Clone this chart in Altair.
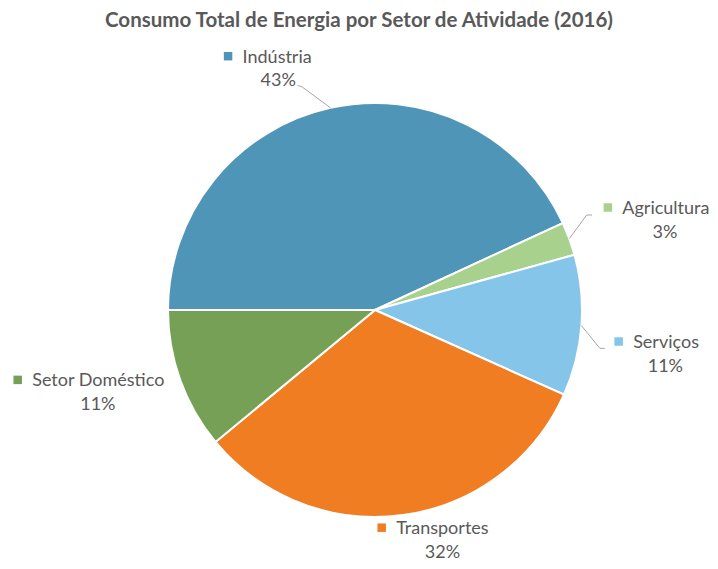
import math
import altair as alt
import pandas as pd

# ---------------- data ----------------
categories = ["Indústria", "Agricultura", "Serviços", "Transportes", "Setor Doméstico"]
shares = [43.1, 2.6, 11.0, 32.3, 11.0]
colors = ["#4F95B8", "#A9D18E", "#86C5EA", "#F07D22", "#76A055"]
title_text = "Consumo Total de Energia por Setor de Atividade (2016)"

# ---------------- layout ----------------
W, H = 702, 513
PAD_TOP = 40
OX, OY = 8, 8 + PAD_TOP
CX, CY, R = 375 - OX, 310 - OY, 207
START_DEG = 270.0
FONT = "Lato"
GREY = "#595959"
FS = 18

# label placement: angular offset from slice mid-angle (deg) and radius of percent line (px)
label_angle_off = [-10.5, 5.2, 6.7, -7.8, 0.9]
label_radius = [248.4, 300.2, 295.8, 251.9, 292.9]
name_left_off = [-35.7, -42.7, -32.2, -46.3, -65.7]
LINE_GAP = 23.5
# leader lines: (elbow offset, end offset) relative to percent-line centre
leaders = [((24.3, 6.0), (19.3, 4.0)),
           ((-78.3, -17.5), (-73.0, -17.5)),
           ((-65.5, -18.2), (-60.5, -18.2)),
           None, None]

total = sum(shares)
pie_rows, lab_rows, lead_rows = [], [], []
cum = 0.0
for i, (c, s) in enumerate(zip(categories, shares)):
    a0 = START_DEG + 360 * cum / total
    cum += s
    a1 = START_DEG + 360 * cum / total
    mid = (a0 + a1) / 2
    pie_rows.append({"category": c, "share": s, "ord": i})
    la = math.radians(mid + label_angle_off[i])
    px = CX + label_radius[i] * math.sin(la)
    py = CY - label_radius[i] * math.cos(la)
    nl = px + name_left_off[i]
    lab_rows.append({"category": c, "pct": f"{round(s / total * 100)}%",
                     "px": px, "py": py, "nx": nl, "ny": py - LINE_GAP,
                     "sx": nl - 14.5, "sy": py - LINE_GAP - 1.5})
    if leaders[i] is not None:
        ma = math.radians(mid)
        pts = [(CX + R * math.sin(ma), CY - R * math.cos(ma)),
               (px + leaders[i][0][0], py + leaders[i][0][1]),
               (px + leaders[i][1][0], py + leaders[i][1][1])]
        for k, (x, y) in enumerate(pts):
            lead_rows.append({"category": c, "k": k, "x": x, "y": y})

pie_df = pd.DataFrame(pie_rows)
lab_df = pd.DataFrame(lab_rows)
lead_df = pd.DataFrame(lead_rows)

color_scale = alt.Scale(domain=categories, range=colors)
theta_scale = alt.Scale(range=[math.radians(START_DEG), math.radians(START_DEG) + 2 * math.pi])

pie = alt.Chart(pie_df).mark_arc(outerRadius=R, stroke="white", strokeWidth=2).encode(
    theta=alt.Theta("share:Q", stack=True, scale=theta_scale),
    color=alt.Color("category:N", scale=color_scale, legend=None),
    order=alt.Order("ord:Q"),
    x=alt.value(CX),
    y=alt.value(CY),
)

lines = alt.Chart(lead_df).mark_line(color="#A6A6A6", strokeWidth=1).encode(
    x=alt.X("x:Q", scale=None, axis=None),
    y=alt.Y("y:Q", scale=None, axis=None),
    detail="category:N",
    order="k:Q",
)

squares = alt.Chart(lab_df).mark_point(shape="square", filled=True, size=72, opacity=1).encode(
    x=alt.X("sx:Q", scale=None, axis=None),
    y=alt.Y("sy:Q", scale=None, axis=None),
    color=alt.Color("category:N", scale=color_scale, legend=None),
)

names = alt.Chart(lab_df).mark_text(font=FONT, fontSize=FS, color=GREY, align="left", baseline="middle").encode(
    x=alt.X("nx:Q", scale=None, axis=None),
    y=alt.Y("ny:Q", scale=None, axis=None),
    text="category:N",
)

pcts = alt.Chart(lab_df).mark_text(font=FONT, fontSize=FS, color=GREY, align="center", baseline="middle").encode(
    x=alt.X("px:Q", scale=None, axis=None),
    y=alt.Y("py:Q", scale=None, axis=None),
    text="pct:N",
)

chart = alt.layer(pie, lines, squares, names, pcts).properties(
    width=W,
    height=H,
    autosize=alt.AutoSizeParams(type="none"),
    padding={"left": 0, "top": PAD_TOP, "right": 0, "bottom": 0},
    title=alt.Title(title_text, font=FONT, fontSize=20.5, fontWeight="bold", color=GREY,
                    anchor="middle", baseline="alphabetic", offset=1),
).configure_view(stroke=None)

chart.save("out.html", embed_options={"renderer": "svg", "actions": False})
